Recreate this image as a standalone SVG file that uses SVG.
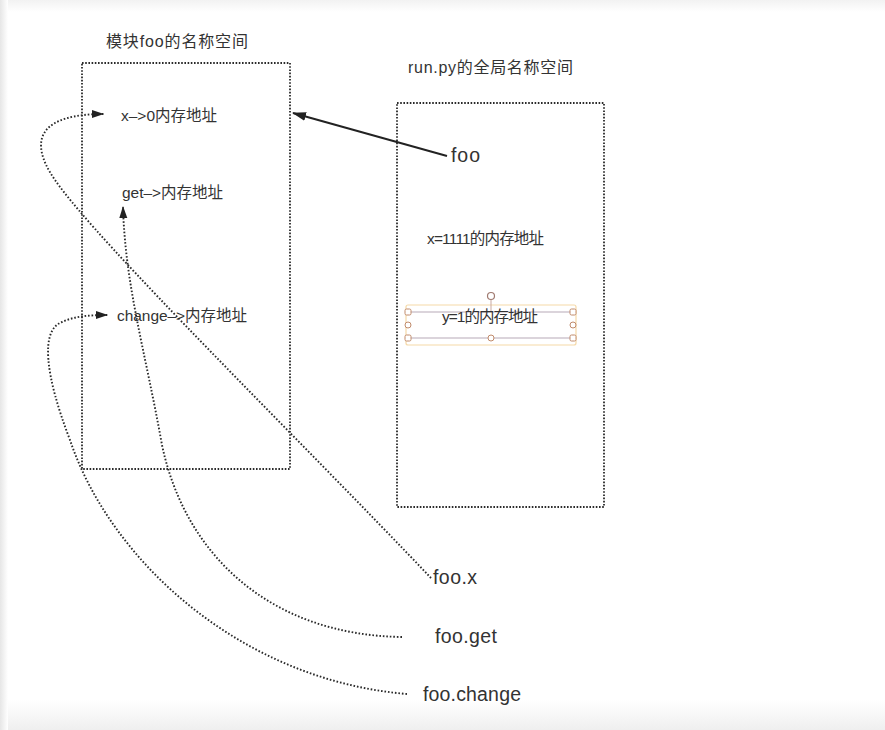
<svg xmlns="http://www.w3.org/2000/svg" width="885" height="730" viewBox="0 0 885 730">
<defs>
<linearGradient id="gt" x1="0" y1="0" x2="0" y2="1"><stop offset="0" stop-color="#f2f2f2"/><stop offset="1" stop-color="#ffffff"/></linearGradient>
<linearGradient id="gb" x1="0" y1="0" x2="0" y2="1"><stop offset="0" stop-color="#ffffff"/><stop offset="1" stop-color="#efefef"/></linearGradient>
<linearGradient id="gl" x1="0" y1="0" x2="1" y2="0"><stop offset="0" stop-color="#e6e6e6"/><stop offset="1" stop-color="#ffffff"/></linearGradient>
<marker id="ah" viewBox="0 0 12 10" refX="12" refY="5" markerWidth="12" markerHeight="10" markerUnits="userSpaceOnUse" orient="auto">
<path d="M0,1 L12,5 L0,9 Z" fill="#222"/>
</marker>
<marker id="ahs" viewBox="0 0 14 10" refX="13" refY="5" markerWidth="14" markerHeight="10" markerUnits="userSpaceOnUse" orient="auto">
<path d="M0,0.5 L14,5 L0,9.5 Z" fill="#222"/>
</marker>
</defs>
<style>
text{font-family:"Liberation Sans","Noto Sans CJK SC",sans-serif;fill:#333}
.t{font-size:15.5px}
.h{font-size:16px}
.l{font-size:19.5px}
.box{fill:none;stroke:#2a2a2a;stroke-width:1.8;stroke-dasharray:1.6 1.6}
.dot{fill:none;stroke:#2a2a2a;stroke-width:1.9;stroke-dasharray:1.6 1.9}
</style>
<rect width="885" height="730" fill="#fff"/>
<rect x="0" y="0" width="885" height="12" fill="url(#gt)"/>
<rect x="0" y="700" width="885" height="30" fill="url(#gb)"/>
<rect x="0" y="0" width="8" height="730" fill="url(#gl)"/>

<g id="foo-namespace">
<rect class="box" x="82" y="63" width="208" height="406"/>
<text class="h" x="106" y="47" textLength="142" lengthAdjust="spacing">模块foo的名称空间</text>
</g>
<g id="node-x">
<text class="t" x="121" y="121" textLength="96" lengthAdjust="spacing">x–&gt;0内存地址</text>
</g>
<g id="node-get">
<text class="t" x="122" y="198" textLength="101" lengthAdjust="spacing">get–&gt;内存地址</text>
</g>
<g id="node-change">
<text class="t" x="117" y="321" textLength="130" lengthAdjust="spacing">change–&gt;内存地址</text>
</g>

<g id="run-namespace">
<rect class="box" x="397" y="103" width="207" height="404"/>
<text class="h" x="408" y="73" textLength="165" lengthAdjust="spacing">run.py的全局名称空间</text>
</g>
<g id="node-foo">
<text class="l" x="451" y="162" textLength="29" lengthAdjust="spacing">foo</text>
</g>
<g id="node-x1111">
<text class="t" x="427" y="244" textLength="117" lengthAdjust="spacing">x=1111的内存地址</text>
</g>
<g id="node-y1">
<rect x="406" y="305" width="170" height="40" rx="2" fill="none" stroke="#f5d9a8" stroke-width="1.2"/>
<line x1="408" y1="312" x2="573" y2="312" stroke="#b8a9b8" stroke-width="1.2"/>
<line x1="408" y1="338" x2="573" y2="338" stroke="#b8a9b8" stroke-width="1.2"/>
<line x1="491" y1="299" x2="491" y2="312" stroke="#c9a9a0" stroke-width="1"/>
<circle cx="491" cy="296" r="3.5" fill="#fff" stroke="#a07a70" stroke-width="1.2"/>
<text class="t" x="442" y="322" textLength="96" lengthAdjust="spacing">y=1的内存地址</text>
<g fill="#fff" stroke="#c08a6a" stroke-width="1">
<rect x="405" y="309" width="6" height="6" rx="1.5"/>
<rect x="570" y="309" width="6" height="6" rx="1.5"/>
<rect x="405" y="335" width="6" height="6" rx="1.5"/>
<rect x="570" y="335" width="6" height="6" rx="1.5"/>
<circle cx="408" cy="325" r="3"/>
<circle cx="573" cy="325" r="3"/>
<circle cx="491" cy="338" r="3"/>
</g>
</g>

<g id="node-foo-x"><text class="l" x="433" y="584" textLength="44" lengthAdjust="spacing">foo.x</text></g>
<g id="node-foo-get"><text class="l" x="435" y="643" textLength="62" lengthAdjust="spacing">foo.get</text></g>
<g id="node-foo-change"><text class="l" x="423" y="701" textLength="98" lengthAdjust="spacing">foo.change</text></g>

<g id="connectors">
<line x1="447" y1="156" x2="293" y2="113" stroke="#222" stroke-width="2" marker-end="url(#ahs)"/>
<path class="dot" d="M431 578 C300 440 100 245 55 180 C26 138 42 114 104 114" marker-end="url(#ah)"/>
<path class="dot" d="M402 637 C270 635 185 555 162 445 C145 350 125 285 123 206" marker-end="url(#ah)"/>
<path class="dot" d="M407 694 C240 680 110 560 70 440 C45 375 40 330 62 322 C75 316 90 315 108 315" marker-end="url(#ah)"/>
</g>
</svg>
